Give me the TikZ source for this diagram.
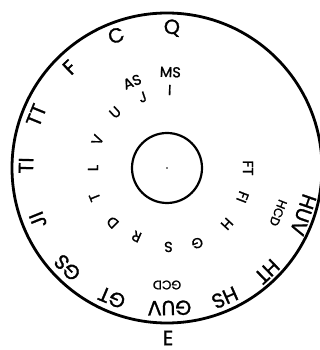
\documentclass[tikz,border=0pt]{standalone}
\usepackage{fontspec}
\setmainfont{Poppins}[FakeBold=1.2]
\begin{document}
\begin{tikzpicture}[x=1pt,y=1pt,
  outerlbl/.style={font=\fontsize{20.5}{20.5}\selectfont, inner sep=0pt},
  innerlbl/.style={font=\fontsize{14.5}{14.5}\selectfont, inner sep=0pt},
  smalllbl/.style={font=\fontsize{12.5}{12.5}\selectfont, inner sep=0pt}]
\useasboundingbox (0,0) rectangle (320,350);
\clip (0,0) rectangle (320,350);
\coordinate (O) at (167,182);
\draw[line width=2.8pt] (O) circle (155);
\draw[line width=2.2pt] (O) circle (35);
\fill (O) circle (0.9);
% outer ring
\node[outerlbl, rotate=-2]   (q)   at ([shift={(88:140)}]O) {Q};
\node[outerlbl, rotate=21]   (c)   at ([shift={(111:142)}]O) {C};
\node[outerlbl, rotate=44]   (f)   at ([shift={(134:140)}]O) {F};
\node[outerlbl, rotate=68]   (tt)  at ([shift={(158:141)}]O) {TT};
\node[outerlbl, rotate=89]   (ti)  at ([shift={(179:141)}]O) {TI};
\node[outerlbl, rotate=112]  (ji)  at ([shift={(202:139)}]O) {JI};
\node[outerlbl, rotate=135]  (gs)  at ([shift={(225:141)}]O) {GS};
\node[outerlbl, rotate=157]  (gt)  at ([shift={(247:141)}]O) {GT};
\node[outerlbl, rotate=181]  (guv) at ([shift={(271:140)}]O) {GUV};
\node[smalllbl, rotate=180]  (gcd) at ([shift={(270:117)}]O) {GCD};
\node[outerlbl, rotate=204]  (hs)  at ([shift={(294:142)}]O) {HS};
\node[outerlbl, rotate=224]  (ht)  at ([shift={(314:144)}]O) {HT};
\node[outerlbl, rotate=251]  (huv) at ([shift={(341:144)}]O) {HUV};
\node[smalllbl, rotate=248]  (hcd) at ([shift={(338:120)}]O) {HCD};
\node[outerlbl] (e) at (168,12) {E};
% inner ring
\node[innerlbl, rotate=-2]   (ms) at ([shift={(88:96)}]O) {MS};
\node[innerlbl, rotate=-2]   (i)  at ([shift={(88:78)}]O) {I};
\node[innerlbl, rotate=22]   (as) at ([shift={(112:93)}]O) {AS};
\node[innerlbl, rotate=19]   (j)  at ([shift={(109:75)}]O) {J};
\node[innerlbl, rotate=43]   (u)  at ([shift={(133:76)}]O) {U};
\node[innerlbl, rotate=68]   (v)  at ([shift={(158:75)}]O) {V};
\node[innerlbl, rotate=90]   (l)  at ([shift={(180:74)}]O) {L};
\node[innerlbl, rotate=112]  (t)  at ([shift={(202:78)}]O) {T};
\node[innerlbl, rotate=135]  (d)  at ([shift={(225:77)}]O) {D};
\node[innerlbl, rotate=156]  (r)  at ([shift={(246:75)}]O) {R};
\node[innerlbl, rotate=181]  (s)  at ([shift={(271:79)}]O) {S};
\node[innerlbl, rotate=202]  (g)  at ([shift={(292:81)}]O) {G};
\node[innerlbl, rotate=227]  (h)  at ([shift={(317:82)}]O) {H};
\node[innerlbl, rotate=249]  (fi) at ([shift={(339:81)}]O) {FI};
\node[innerlbl, rotate=270]  (ft) at ([shift={(0:81)}]O) {FT};
\end{tikzpicture}
\end{document}
